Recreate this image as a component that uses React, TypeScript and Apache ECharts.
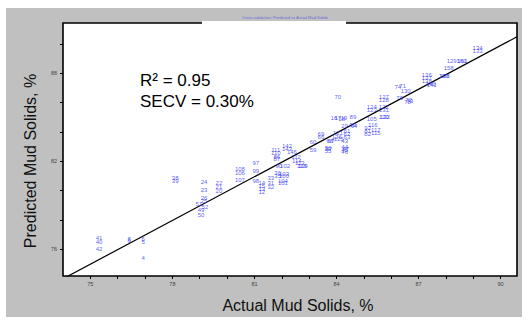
import React, { useEffect, useRef } from "react";
import * as echarts from "echarts";

const sampleIds = [
  41, 40, 42, 8, 9, 6, 5, 4, 38, 39, 24, 23, 22, 21, 20, 26, 25, 51, 52, 49, 50,
  108, 106, 107, 97, 99, 98, 14, 15, 13, 12, 33, 31, 32, 36, 35, 103, 100, 104, 101,
  111, 110, 86, 87, 90, 102, 142, 143, 146, 112, 114, 113, 118, 119, 60, 59, 69, 66,
  68, 67, 126, 125, 43, 121, 61, 62, 63, 56, 57, 55, 44, 45, 46, 47, 16, 17, 18, 19,
  29, 93, 94, 89, 105, 116, 92, 81, 82, 117, 115, 124, 123, 127, 128, 122, 131, 120,
  132, 70, 74, 71, 130, 72, 73, 79, 78, 140, 141, 136, 137, 138, 139, 135, 158, 129,
  160, 161, 134, 133,
];

const actual = [
  75.32, 75.32, 75.32, 76.42, 76.42, 76.93, 76.93, 76.93, 78.1, 78.1, 79.16, 79.16, 79.7, 79.7, 79.7, 79.16, 79.16, 78.97, 79.19, 79.05, 79.05,
  80.47, 80.47, 80.47, 81.05, 81.05, 81.05, 81.27, 81.27, 81.27, 81.27, 81.6, 81.6, 81.6, 81.85, 81.85, 82.08, 82.08, 82.04, 82.04,
  81.78, 81.78, 81.82, 81.82, 81.89, 82.12, 82.19, 82.19, 82.37, 82.52, 82.55, 82.66, 82.73, 82.77, 83.14, 83.14, 83.43, 83.43,
  83.76, 83.8, 84.01, 84.08, 84.3, 84.05, 84.38, 84.38, 84.38, 83.69, 83.72, 83.69, 84.3, 84.3, 84.3, 84.34, 83.91, 84.05, 84.19, 84.27,
  84.3, 84.6, 84.64, 84.6, 85.29, 85.33, 85.14, 85.14, 85.14, 85.44, 85.44, 85.29, 85.29, 85.73, 85.73, 85.73, 85.73, 85.73,
  85.77, 84.05, 86.24, 86.42, 86.53, 86.64, 86.68, 86.31, 86.6, 87.45, 87.48, 87.3, 87.3, 87.3, 87.92, 87.96, 88.1, 88.21,
  88.57, 88.6, 89.16, 89.16,
];

const predicted = [
  76.75, 76.48, 76.0, 76.69, 76.55, 76.69, 76.48, 75.39, 80.85, 80.65, 80.58, 80.03, 80.51, 80.24, 79.96, 79.49, 79.28, 79.08, 78.87, 78.67, 78.33,
  81.47, 81.19, 80.72, 81.88, 81.33, 80.65, 80.51, 80.31, 80.1, 79.9, 80.85, 80.51, 80.24, 81.19, 80.99, 81.13, 80.99, 80.65, 80.51,
  82.77, 82.56, 82.29, 82.15, 81.67, 81.67, 83.04, 82.83, 82.63, 82.29, 82.01, 81.88, 81.67, 81.67, 83.31, 82.77, 83.86, 83.65,
  83.38, 83.38, 83.65, 83.52, 83.38, 83.93, 84.06, 83.86, 83.65, 82.9, 82.83, 82.7, 82.97, 82.77, 82.63, 82.83, 84.95, 84.95, 84.88, 84.95,
  84.4, 84.47, 84.4, 85.02, 84.88, 84.47, 84.27, 84.06, 83.86, 84.13, 83.93, 85.7, 85.5, 86.39, 86.18, 85.7, 85.5, 85.02,
  85.02, 86.39, 87.07, 87.14, 86.8, 86.15, 86.08, 86.32, 86.04, 87.27, 87.21, 87.89, 87.68, 87.48, 87.82, 87.82, 88.37, 88.84,
  88.84, 88.84, 89.73, 89.53,
];

const fitLine = [
  [74.0, 73.97],
  [90.6, 90.5],
];

const xTickValues = [75, 76, 77, 78, 79, 80, 81, 82, 83, 84, 85, 86, 87, 88, 89, 90];
const xLabelValues = [75, 78, 81, 84, 87, 90];
const yTickValues = [76, 78, 80, 82, 84, 86, 88, 90];
const yLabelValues = [76, 82, 88];

const xAxisTitle = "Actual Mud Solids, %";
const yAxisTitle = "Predicted Mud Solids, %";
const statR2 = "R² = 0.95";
const statSecv = "SECV = 0.30%";
const chartTitle = "Cross-validation: Predicted vs Actual Mud Solids";

const FONT = "'Liberation Sans', Arial, sans-serif";

export default function App() {
  const ref = useRef<HTMLDivElement>(null);

  useEffect(() => {
    if (!ref.current) return;
    const chart = echarts.init(ref.current, undefined, { renderer: "svg" });
    const points = sampleIds.map((id, i) => [actual[i], predicted[i], id]);

    chart.setOption({
      animation: false,
      backgroundColor: "#ffffff",
      grid: {
        left: 63,
        top: 23,
        right: 11,
        bottom: 44,
        show: true,
        backgroundColor: "#ffffff",
        borderColor: "#000000",
        borderWidth: 1.6,
        outerBoundsMode: "none",
        containLabel: false,
      },
      xAxis: {
        type: "value",
        min: 74,
        max: 90.6,
        axisLine: { show: false },
        splitLine: { show: false },
        axisTick: {
          show: true,
          inside: false,
          length: 3,
          customValues: xTickValues,
          lineStyle: { color: "#000", width: 1 },
        },
        axisLabel: {
          show: true,
          customValues: xLabelValues,
          fontSize: 5.5,
          color: "#444",
          fontFamily: FONT,
          margin: 5,
        },
      },
      yAxis: {
        type: "value",
        min: 74.16,
        max: 91.44,
        axisLine: { show: false },
        splitLine: { show: false },
        axisTick: {
          show: true,
          inside: false,
          length: 3,
          customValues: yTickValues,
          lineStyle: { color: "#000", width: 1 },
        },
        axisLabel: {
          show: true,
          customValues: yLabelValues,
          fontSize: 5.5,
          color: "#444",
          fontFamily: FONT,
          margin: 6,
        },
      },
      series: [
        {
          type: "line",
          data: fitLine,
          symbol: "none",
          clip: true,
          lineStyle: { color: "#000", width: 1.2 },
          z: 3,
        },
        {
          type: "scatter",
          data: points,
          symbolSize: 1,
          itemStyle: { color: "rgba(0,0,0,0)" },
          label: {
            show: true,
            position: "inside",
            formatter: (p: any) => String(p.value[2]),
            fontSize: 6,
            fontFamily: FONT,
            color: "#3434f0",
          },
          emphasis: { disabled: true },
          z: 4,
        },
      ],
      graphic: [
        {
          type: "rect",
          z: -100,
          silent: true,
          shape: { x: 6, y: 8, width: 516, height: 309 },
          style: { fill: "#c0c0c0" },
        },
        {
          type: "rect",
          z: 100,
          silent: true,
          shape: { x: 202, y: 21, width: 144, height: 3.5 },
          style: { fill: "#ffffff" },
        },
        {
          type: "text",
          z: 101,
          silent: true,
          x: 285,
          y: 17,
          style: {
            text: chartTitle,
            fontSize: 4,
            fontFamily: FONT,
            fill: "#6a6ad8",
            textAlign: "center",
            textVerticalAlign: "middle",
          },
        },
        {
          type: "text",
          z: 101,
          silent: true,
          x: 140,
          y: 80,
          style: {
            text: statR2,
            fontSize: 17,
            fontFamily: FONT,
            fill: "#000",
            textAlign: "left",
            textVerticalAlign: "middle",
          },
        },
        {
          type: "text",
          z: 101,
          silent: true,
          x: 140,
          y: 101,
          style: {
            text: statSecv,
            fontSize: 17,
            fontFamily: FONT,
            fill: "#000",
            textAlign: "left",
            textVerticalAlign: "middle",
          },
        },
        {
          type: "text",
          z: 101,
          silent: true,
          x: 298,
          y: 305,
          style: {
            text: xAxisTitle,
            fontSize: 16,
            fontFamily: FONT,
            fill: "#111",
            textAlign: "center",
            textVerticalAlign: "middle",
          },
        },
        {
          type: "text",
          z: 101,
          silent: true,
          x: 30,
          y: 161,
          rotation: Math.PI / 2,
          style: {
            text: yAxisTitle,
            fontSize: 16,
            fontFamily: FONT,
            fill: "#111",
            textAlign: "center",
            textVerticalAlign: "middle",
          },
        },
      ],
    });

    return () => chart.dispose();
  }, []);

  return (
    <div
      ref={ref}
      style={{ position: "fixed", left: 0, top: 0, width: 528, height: 320 }}
    />
  );
}
